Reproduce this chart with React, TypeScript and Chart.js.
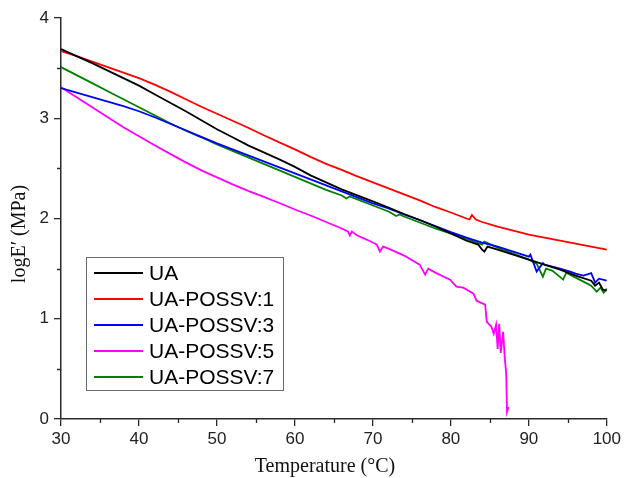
import React, { useEffect, useRef } from "react";
import { Chart, registerables } from "chart.js";

Chart.register(...registerables);

const seriesLabels = ["UA", "UA-POSSV:1", "UA-POSSV:3", "UA-POSSV:5", "UA-POSSV:7"];
const seriesColors = ["#000000", "#ff0000", "#0000ff", "#ff00ff", "#008000"];

const uaT = [30, 32, 34, 36, 38, 40, 42, 44, 46, 48, 50, 52, 54, 56, 58, 60, 62, 64, 66, 67, 68, 70, 72, 74, 76, 78, 80, 82, 83.5, 84, 84.3, 84.7, 86, 88, 90, 92, 94, 96, 98, 98.5, 99, 99.5, 100];
const uaV = [3.69, 3.62, 3.55, 3.475, 3.4, 3.325, 3.24, 3.155, 3.07, 2.98, 2.89, 2.81, 2.73, 2.66, 2.59, 2.515, 2.43, 2.36, 2.29, 2.26, 2.23, 2.17, 2.11, 2.045, 1.985, 1.92, 1.85, 1.78, 1.74, 1.69, 1.67, 1.72, 1.69, 1.64, 1.59, 1.54, 1.49, 1.43, 1.38, 1.33, 1.36, 1.29, 1.28];

const p1T = [30, 32, 34, 36, 38, 40, 42, 44, 46, 48, 50, 52, 54, 56, 58, 60, 62, 64, 66, 68, 70, 72, 74, 76, 78, 80, 82, 82.4, 82.7, 83.2, 84, 86, 88, 90, 92, 94, 96, 98, 100];
const p1V = [3.67, 3.62, 3.565, 3.51, 3.455, 3.4, 3.335, 3.265, 3.19, 3.115, 3.045, 2.975, 2.905, 2.83, 2.76, 2.69, 2.615, 2.545, 2.485, 2.42, 2.36, 2.3, 2.24, 2.18, 2.115, 2.06, 2.0, 1.99, 2.035, 1.99, 1.965, 1.92, 1.88, 1.84, 1.81, 1.78, 1.75, 1.72, 1.69];

const p3T = [30, 32, 34, 36, 38, 40, 42, 44, 46, 48, 50, 52, 54, 56, 58, 60, 62, 64, 66, 68, 70, 72, 74, 76, 78, 80, 82, 84, 86, 88, 90, 90.2, 91, 91.8, 92, 94, 95.3, 96, 97, 98, 98.5, 99, 100];
const p3V = [3.3, 3.255, 3.21, 3.165, 3.12, 3.07, 3.01, 2.945, 2.88, 2.815, 2.75, 2.69, 2.63, 2.57, 2.51, 2.45, 2.39, 2.33, 2.27, 2.21, 2.15, 2.1, 2.04, 1.985, 1.925, 1.865, 1.81, 1.76, 1.72, 1.67, 1.62, 1.64, 1.47, 1.555, 1.54, 1.5, 1.47, 1.45, 1.43, 1.455, 1.36, 1.4, 1.38];

const p5T = [30, 32, 34, 36, 38, 40, 42, 44, 46, 48, 50, 52, 54, 56, 58, 60, 62, 64, 66, 66.8, 67.05, 67.3, 68, 69.2, 70.5, 70.9, 71.3, 72, 74, 76, 76.7, 77.1, 78, 79.9, 80.7, 81.6, 82.9, 83.3, 84.4, 84.6, 85.2, 85.5, 85.8, 86.0, 86.2, 86.4, 86.7, 86.9, 87.1, 87.2, 87.4];
const p5V = [3.31, 3.21, 3.11, 3.01, 2.91, 2.82, 2.73, 2.645, 2.56, 2.48, 2.41, 2.34, 2.275, 2.215, 2.155, 2.09, 2.03, 1.965, 1.9, 1.87, 1.83, 1.87, 1.83, 1.79, 1.74, 1.67, 1.72, 1.7, 1.63, 1.54, 1.44, 1.5, 1.46, 1.39, 1.32, 1.31, 1.25, 1.18, 1.14, 0.97, 0.92, 0.85, 0.94, 0.7, 0.95, 0.66, 0.87, 0.62, 0.45, 0.07, 0.12];

const p7T = [30, 32, 34, 36, 38, 40, 42, 44, 46, 48, 50, 52, 54, 56, 58, 60, 62, 64, 66, 66.6, 67, 68, 70, 72, 73, 73.4, 74, 76, 78, 80, 82, 84, 84.3, 86, 88, 90, 91, 91.8, 92.2, 93, 94.4, 94.8, 96, 97, 98, 98.7, 99.2, 99.6, 100];
const p7V = [3.51, 3.43, 3.35, 3.27, 3.19, 3.11, 3.03, 2.95, 2.875, 2.81, 2.74, 2.675, 2.61, 2.545, 2.48, 2.415, 2.35, 2.285, 2.23, 2.2, 2.22, 2.19, 2.13, 2.07, 2.025, 2.04, 2.02, 1.96, 1.9, 1.85, 1.8, 1.74, 1.77, 1.71, 1.65, 1.59, 1.55, 1.42, 1.5, 1.48, 1.39, 1.46, 1.41, 1.37, 1.33, 1.27, 1.31, 1.26, 1.3];

const seriesT = [uaT, p1T, p3T, p5T, p7T];
const seriesV = [uaV, p1V, p3V, p5V, p7V];

const xMin = 30, xMax = 100, xStep = 10;
const yMin = 0, yMax = 4, yStep = 1;
const xMinorTicks = [35, 45, 55, 65, 75, 85, 95];
const yMinorTicks = [0.5, 1.5, 2.5, 3.5];

const xTitle = "Temperature (°C)";
const yTitle = "logE′ (MPa)";

const AXIS_COLOR = "#2a2a2a";

const decorPlugin = {
  id: "decor",
  afterDraw(chart: any) {
    const ctx = chart.ctx;
    const xs = chart.scales.x;
    const ys = chart.scales.y;
    const area = chart.chartArea;
    ctx.save();
    // minor ticks
    ctx.strokeStyle = AXIS_COLOR;
    ctx.lineWidth = 1.3;
    ctx.beginPath();
    xMinorTicks.forEach((v) => {
      const px = Math.round(xs.getPixelForValue(v)) + 0.5;
      ctx.moveTo(px, area.bottom);
      ctx.lineTo(px, area.bottom + 4);
    });
    yMinorTicks.forEach((v) => {
      const py = Math.round(ys.getPixelForValue(v)) + 0.5;
      ctx.moveTo(area.left, py);
      ctx.lineTo(area.left - 4, py);
    });
    ctx.stroke();

    // axis titles
    ctx.fillStyle = "#111";
    ctx.font = '20px "Liberation Serif", "Times New Roman", serif';
    ctx.textAlign = "center";
    ctx.textBaseline = "middle";
    ctx.fillText(xTitle, 325, 467);
    ctx.save();
    ctx.translate(20, 234);
    ctx.rotate(-Math.PI / 2);
    ctx.fillText(yTitle, 0, 0);
    ctx.restore();

    // legend
    const bx = 86, by = 257, bw = 197, bh = 133;
    ctx.fillStyle = "#ffffff";
    ctx.fillRect(bx, by, bw, bh);
    ctx.strokeStyle = "#6a6a6a";
    ctx.lineWidth = 1;
    ctx.strokeRect(bx + 0.5, by + 0.5, bw, bh);
    ctx.font = '21px "Liberation Sans", Arial, sans-serif';
    ctx.textAlign = "left";
    ctx.textBaseline = "middle";
    const rows = [273, 299, 325, 351, 377];
    chart.data.datasets.forEach((ds: any, i: number) => {
      const ry = rows[i];
      ctx.strokeStyle = ds.borderColor;
      ctx.lineWidth = 2;
      ctx.beginPath();
      ctx.moveTo(94, ry);
      ctx.lineTo(143, ry);
      ctx.stroke();
      ctx.fillStyle = "#000";
      ctx.fillText(ds.label, 149, ry + 1);
    });
    ctx.restore();
  },
};

export default function App() {
  const ref = useRef<HTMLCanvasElement | null>(null);
  useEffect(() => {
    document.body.style.margin = "0";
    const canvas = ref.current!;
    const datasets = seriesLabels.map((label, i) => ({
      label,
      data: seriesT[i].map((t, j) => ({ x: t, y: seriesV[i][j] })),
      borderColor: seriesColors[i],
      backgroundColor: seriesColors[i],
      borderWidth: 1.8,
      pointRadius: 0,
      tension: 0,
      fill: false,
    }));
    const chart = new Chart(canvas, {
      type: "line",
      data: { datasets },
      options: {
        animation: false,
        responsive: false,
        devicePixelRatio: 1,
        layout: { padding: { top: 18, right: 17, left: 0, bottom: 0 }, autoPadding: false },
        plugins: { legend: { display: false }, tooltip: { enabled: false } },
        scales: {
          x: {
            type: "linear",
            min: xMin,
            max: xMax,
            afterFit: (s: any) => { s.height = 59; },
            ticks: { stepSize: xStep, color: "#222", padding: 3, font: { size: 17, family: '"Liberation Sans", Arial, sans-serif' } },
            grid: { display: true, drawOnChartArea: false, drawTicks: true, tickLength: 7, color: AXIS_COLOR, lineWidth: 1.3 },
            border: { display: true, color: AXIS_COLOR, width: 1.5 },
          },
          y: {
            type: "linear",
            min: yMin,
            max: yMax,
            afterFit: (s: any) => { s.width = 61; },
            ticks: { stepSize: yStep, color: "#222", padding: 5, font: { size: 17, family: '"Liberation Sans", Arial, sans-serif' } },
            grid: { display: true, drawOnChartArea: false, drawTicks: true, tickLength: 7, color: AXIS_COLOR, lineWidth: 1.3 },
            border: { display: true, color: AXIS_COLOR, width: 1.5 },
          },
        },
      } as any,
      plugins: [decorPlugin],
    });
    return () => chart.destroy();
  }, []);
  return (
    <div style={{ position: "absolute", left: 0, top: 0, width: 624, height: 478 }}>
      <canvas ref={ref} width={624} height={478} style={{ width: 624, height: 478 }} />
    </div>
  );
}
